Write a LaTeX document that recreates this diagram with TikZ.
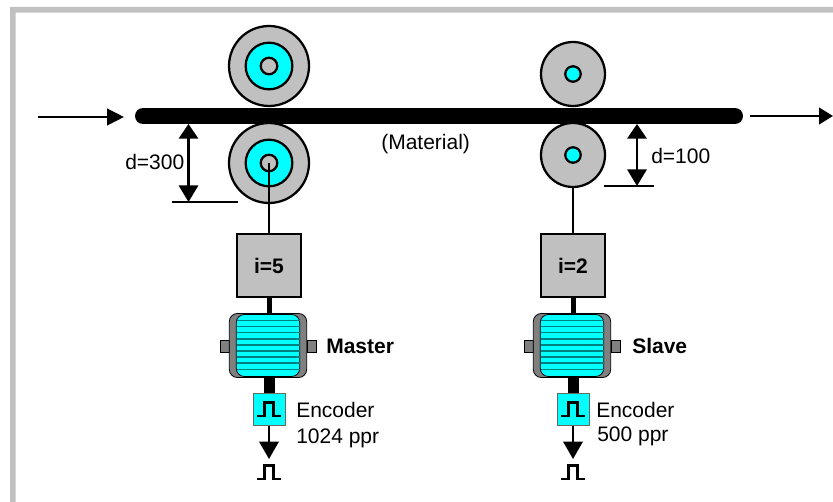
\documentclass[tikz,border=0pt]{standalone}
\usepackage{fontspec}
\setmainfont{Liberation Sans}
\usetikzlibrary{arrows.meta}
\definecolor{c0}{HTML}{C0C0C0}
\definecolor{c1}{HTML}{00FFFF}
\definecolor{c2}{HTML}{808080}
\definecolor{c3}{HTML}{008080}
\tikzset{%
  lbl/.style={font=\fontsize{15.75}{18}\selectfont,anchor=base west,inner sep=0pt},
  lblb/.style={lbl,font=\fontsize{15.75}{18}\selectfont\bfseries},
  disc/.style={circle,draw,line width=1.7pt,inner sep=0pt,minimum size=#1},
  gearbox/.style={rectangle,draw,fill=c0,line width=1.8pt,inner sep=0pt,
    minimum width=48.4pt,minimum height=47.6pt,font=\fontsize{15.75}{18}\selectfont\bfseries},
  housing/.style={rectangle,draw,fill=c2,line width=.6pt,rounded corners=6pt,inner sep=0pt,
    minimum width=58pt,minimum height=48pt},
  winding/.style={rectangle,draw,fill=c1,line width=.6pt,rounded corners=6pt,inner sep=0pt,
    minimum width=47.5pt,minimum height=46.5pt},
  tab/.style={rectangle,draw,fill=c2,line width=.6pt,inner sep=0pt,minimum width=7pt,minimum height=9pt},
  encbox/.style={rectangle,draw=black!60,fill=c1,line width=.6pt,inner sep=0pt,minimum size=24pt},
  wire/.style={line width=1.7pt},
  flow/.style={line width=1.7pt,-{Triangle[length=#1,width=12.5pt]}},
  dimline/.style={line width=1.7pt,{Triangle[length=11pt,width=14.5pt]}-{Triangle[length=12.5pt,width=14.5pt]}},
  sig/.style={line width=1.7pt,-{Triangle[length=13pt,width=14.5pt]}}
}
\NewDocumentCommand\pulsemark{}{%
  \draw[line width=1.8pt] (-12,0)--(-4.5,0)--(-4.5,-13.5)--(4.5,-13.5)--(4.5,0)--(12,0);
}
\NewDocumentCommand\drivecol{mm}{%
  \node[tab] (tabl#1) at (-44,81) {};
  \node[tab] (tabr#1) at (43,81) {};
  \node[housing] (motor#1) at (-1,80) {};
  \node[winding] (coil#1) at (-1,80) {};
  \foreach \k in {0,...,8}
    \draw[c3,line width=1.1pt] (-32.5,55+6.1*\k)--(30.5,55+6.1*\k);
  \node[gearbox] (gear#1) at (0,0) {\raisebox{-1pt}{#2}};
  \node[encbox] (enc#1) at (0,144) {};
  \coordinate (out#1) at (0,193.5);
  \draw[line width=3.75pt] (gear#1.south)--(gear#1.south|-motor#1.north);
  \draw[line width=8.25pt] (enc#1.north|-motor#1.south)--(enc#1.north);
  \draw[sig] (enc#1.south)--(out#1);
  \begin{scope}[shift={(0,150.5)}]\pulsemark\end{scope}
  \begin{scope}[shift={(0,213.5)}]\pulsemark\end{scope}
}

\begin{document}
\begin{tikzpicture}[x=.75pt,y=-.75pt]
  \useasboundingbox (0,0) rectangle (833,502);
  \fill[c0] (10,502) rectangle (15.7,7) -- (833,7) -- (833,12.7) -- (15.7,12.7) -- cycle;
  %%% rollers
  \node[disc=60pt,fill=c0] (ra) at (269,66) {};
  \node[disc=35pt,fill=c1] (rb) at (269,66) {};
  \node[disc=12.4pt,fill=c0] (rc) at (269,66) {};
  \node[disc=60pt,fill=c0] (rd) at (269,163) {};
  \node[disc=35pt,fill=c1] (re) at (269,163) {};
  \node[disc=12.4pt,fill=c0] (rf) at (269,163) {};
  \node[disc=48pt,fill=c0] (sa) at (573,74) {};
  \node[disc=11.6pt,fill=c1] (sb) at (573,74) {};
  \node[disc=48pt,fill=c0] (sd) at (573,155) {};
  \node[disc=11.6pt,fill=c1] (se) at (573,155) {};
  %%% material
  \coordinate (m0) at (143,116);
  \coordinate (m1) at (735,116);
  \draw[line width=12pt,line cap=round] (m0)--(m1);
  \coordinate (in0) at (38,117);
  \coordinate (in1) at (124,117);
  \coordinate (out0) at (750,116);
  \coordinate (out1) at (833,116);
  \draw[flow=12.75pt] (in0)--(in1);
  \draw[flow=10.5pt] (out0)--(out1);
  \node[lbl] (mat) at (381,150) {(Material)};
  %%% drives
  \begin{scope}[shift={(269,265.5)}]\drivecol{a}{i=5}\end{scope}
  \begin{scope}[shift={(573,265.5)}]\drivecol{b}{i=2}\end{scope}
  \draw[wire] (rd.center)--(geara.north);
  \draw[wire] (sd.south)--(gearb.north);
  %%% dimensions
  \coordinate (da) at (188.5,124);
  \coordinate (db) at (188.5,202);
  \coordinate (dc) at (172,202);
  \coordinate (dd) at (238,202);
  \coordinate (de) at (637,124);
  \coordinate (df) at (637,186);
  \coordinate (dg) at (604,186);
  \coordinate (dh) at (654,186);
  \draw[dimline] (da)--(db);
  \draw[dimline] (de)--(df);
  \draw[wire] (dc)--(dd);
  \draw[wire] (dg)--(dh);
  \node[lbl] (dl) at (125,170) {d=300};
  \node[lbl] (dr) at (651,164) {d=100};
  %%% labels
  \node[lblb] (master) at (326,354) {Master};
  \node[lblb] (slave) at (632,354) {Slave};
  \node[lbl] (enca) at (296,418) {Encoder};
  \node[lbl] (encb) at (296,444) {1024 ppr};
  \node[lbl] (encc) at (596,418) {Encoder};
  \node[lbl] (encd) at (597,442) {500 ppr};
\end{tikzpicture}
\end{document}
